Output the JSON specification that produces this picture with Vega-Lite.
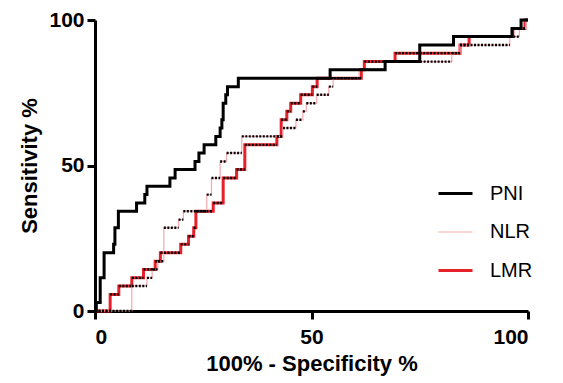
{
  "$schema": "https://vega.github.io/schema/vega-lite/v6.json",
  "width": 433,
  "height": 291,
  "autosize": {"type": "none"},
  "padding": {"left": 95, "top": 20, "right": 35, "bottom": 72},
  "background": "white",
  "config": {
    "view": {"stroke": null},
    "font": "Liberation Sans",
    "axis": {
      "grid": false,
      "domainColor": "black",
      "domainWidth": 3,
      "tickColor": "black",
      "tickWidth": 3,
      "tickSize": 8,
      "labelFont": "Liberation Sans",
      "labelFontWeight": "bold",
      "labelFontSize": 21,
      "labelColor": "black",
      "titleFont": "Liberation Sans",
      "titleFontWeight": "bold",
      "titleFontSize": 22,
      "titleColor": "black"
    }
  },
  "data": {
    "values": [
      {"s": "LMR", "x": 0, "y": 0},
      {"s": "LMR", "x": 3.5, "y": 5.7},
      {"s": "LMR", "x": 5.5, "y": 8.6},
      {"s": "LMR", "x": 8.5, "y": 11.4},
      {"s": "LMR", "x": 11.2, "y": 14.3},
      {"s": "LMR", "x": 13.9, "y": 17.1},
      {"s": "LMR", "x": 15.1, "y": 20},
      {"s": "LMR", "x": 19.8, "y": 22.9},
      {"s": "LMR", "x": 21.6, "y": 25.7},
      {"s": "LMR", "x": 22.8, "y": 28.6},
      {"s": "LMR", "x": 23.3, "y": 34.3},
      {"s": "LMR", "x": 27.3, "y": 37.1},
      {"s": "LMR", "x": 29.6, "y": 45.7},
      {"s": "LMR", "x": 32.7, "y": 48.6},
      {"s": "LMR", "x": 34.6, "y": 57.1},
      {"s": "LMR", "x": 42, "y": 60},
      {"s": "LMR", "x": 43, "y": 65.7},
      {"s": "LMR", "x": 44.3, "y": 68.6},
      {"s": "LMR", "x": 45.2, "y": 71.4},
      {"s": "LMR", "x": 47.5, "y": 74.3},
      {"s": "LMR", "x": 50.2, "y": 77.1},
      {"s": "LMR", "x": 51.3, "y": 80},
      {"s": "LMR", "x": 61.5, "y": 82.9},
      {"s": "LMR", "x": 62.2, "y": 85.7},
      {"s": "LMR", "x": 69.3, "y": 88.6},
      {"s": "LMR", "x": 84.3, "y": 91.4},
      {"s": "LMR", "x": 86.4, "y": 94.3},
      {"s": "LMR", "x": 96.5, "y": 97.1},
      {"s": "LMR", "x": 99.3, "y": 100},
      {"s": "LMR", "x": 100, "y": 100},
      {"s": "NLR", "x": 0, "y": 0},
      {"s": "NLR", "x": 8.5, "y": 8.6},
      {"s": "NLR", "x": 12, "y": 11.4},
      {"s": "NLR", "x": 13.2, "y": 14.3},
      {"s": "NLR", "x": 14.5, "y": 17.1},
      {"s": "NLR", "x": 15.9, "y": 28.6},
      {"s": "NLR", "x": 19.3, "y": 31.4},
      {"s": "NLR", "x": 20.4, "y": 34.3},
      {"s": "NLR", "x": 25.8, "y": 40},
      {"s": "NLR", "x": 26.9, "y": 45.7},
      {"s": "NLR", "x": 28.9, "y": 51.4},
      {"s": "NLR", "x": 30.4, "y": 54.3},
      {"s": "NLR", "x": 33.9, "y": 60},
      {"s": "NLR", "x": 43.4, "y": 62.9},
      {"s": "NLR", "x": 46.4, "y": 65.7},
      {"s": "NLR", "x": 48, "y": 68.6},
      {"s": "NLR", "x": 48.8, "y": 71.4},
      {"s": "NLR", "x": 51.2, "y": 74.3},
      {"s": "NLR", "x": 54, "y": 77.1},
      {"s": "NLR", "x": 55, "y": 80},
      {"s": "NLR", "x": 61, "y": 82.9},
      {"s": "NLR", "x": 67, "y": 85.7},
      {"s": "NLR", "x": 82.4, "y": 88.6},
      {"s": "NLR", "x": 84.3, "y": 91.4},
      {"s": "NLR", "x": 95.8, "y": 94.3},
      {"s": "NLR", "x": 98, "y": 97.1},
      {"s": "NLR", "x": 99.5, "y": 100},
      {"s": "NLR", "x": 100, "y": 100},
      {"s": "PNI", "x": 0, "y": 0},
      {"s": "PNI", "x": 0.3, "y": 2.9},
      {"s": "PNI", "x": 1.2, "y": 11.4},
      {"s": "PNI", "x": 2.1, "y": 20},
      {"s": "PNI", "x": 4.3, "y": 22.9},
      {"s": "PNI", "x": 4.6, "y": 28.6},
      {"s": "PNI", "x": 5.4, "y": 34.3},
      {"s": "PNI", "x": 9.6, "y": 37.1},
      {"s": "PNI", "x": 11.5, "y": 40},
      {"s": "PNI", "x": 12, "y": 42.9},
      {"s": "PNI", "x": 17.3, "y": 45.7},
      {"s": "PNI", "x": 18.5, "y": 48.6},
      {"s": "PNI", "x": 23.1, "y": 51.4},
      {"s": "PNI", "x": 24, "y": 54.3},
      {"s": "PNI", "x": 25.2, "y": 57.1},
      {"s": "PNI", "x": 27.9, "y": 60},
      {"s": "PNI", "x": 28.9, "y": 62.9},
      {"s": "PNI", "x": 29.3, "y": 65.7},
      {"s": "PNI", "x": 29.6, "y": 71.4},
      {"s": "PNI", "x": 30.2, "y": 74.3},
      {"s": "PNI", "x": 30.6, "y": 77.1},
      {"s": "PNI", "x": 33.1, "y": 80},
      {"s": "PNI", "x": 54.3, "y": 82.9},
      {"s": "PNI", "x": 67, "y": 85.7},
      {"s": "PNI", "x": 75, "y": 91.4},
      {"s": "PNI", "x": 82.8, "y": 94.3},
      {"s": "PNI", "x": 96.3, "y": 97.1},
      {"s": "PNI", "x": 98.4, "y": 100},
      {"s": "PNI", "x": 100, "y": 100}
    ]
  },
  "layer": [
    {
      "mark": {"type": "line", "interpolate": "step-after", "clip": false},
      "encoding": {
        "x": {
          "field": "x", "type": "quantitative",
          "scale": {"domain": [0, 100], "nice": false},
          "axis": {"values": [0, 50, 100], "title": "100% - Specificity %", "labelPadding": 7, "titlePadding": 6}
        },
        "y": {
          "field": "y", "type": "quantitative",
          "scale": {"domain": [0, 100], "nice": false},
          "axis": {"values": [0, 50, 100], "title": "Sensitivity %", "labelPadding": 3, "titlePadding": 7}
        },
        "color": {
          "field": "s", "type": "nominal",
          "scale": {"domain": ["PNI", "NLR", "LMR"], "range": ["#000000", "#f5a8b0", "#e8202a"]},
          "legend": {
            "title": null,
            "orient": "none",
            "legendX": 342,
            "legendY": 155,
            "symbolType": "stroke",
            "symbolSize": 1156,
            "labelFont": "Liberation Sans",
            "labelFontSize": 20,
            "labelColor": "black",
            "labelOffset": 16,
            "rowPadding": 10
          }
        },
        "strokeWidth": {
          "field": "s", "type": "nominal",
          "scale": {"type": "ordinal", "domain": ["PNI", "NLR", "LMR"], "range": [3, 1.2, 3]},
          "legend": {
            "title": null,
            "orient": "none",
            "legendX": 342,
            "legendY": 155,
            "symbolType": "stroke",
            "symbolSize": 1156,
            "labelFont": "Liberation Sans",
            "labelFontSize": 20,
            "labelColor": "black",
            "labelOffset": 16,
            "rowPadding": 10
          }
        },
        "order": {"field": "x", "type": "quantitative"}
      }
    },
    {
      "transform": [
        {"filter": "datum.s !== 'PNI'"},
        {"window": [{"op": "lead", "field": "x", "as": "x_next"}], "groupby": ["s"], "sort": [{"field": "x"}]},
        {"filter": "datum.x_next != null"}
      ],
      "mark": {"type": "rule", "color": "black", "strokeWidth": 2.4, "strokeDash": [2, 1.5]},
      "encoding": {
        "x": {"field": "x", "type": "quantitative"},
        "x2": {"field": "x_next"},
        "y": {"field": "y", "type": "quantitative"}
      }
    }
  ]
}
